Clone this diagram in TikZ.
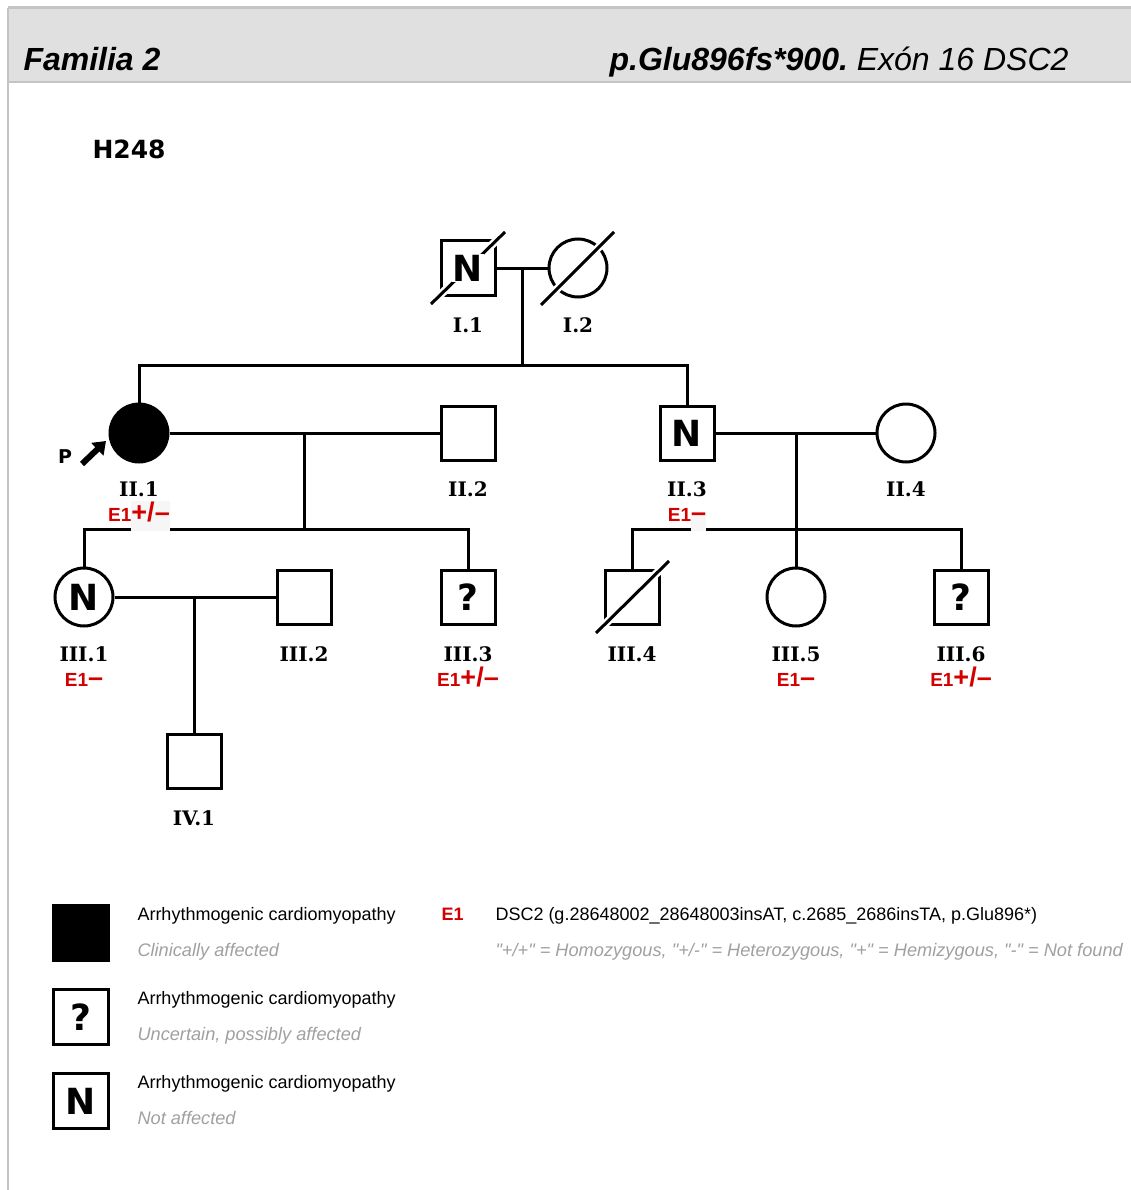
\documentclass[tikz,border=0pt]{standalone}
\usepackage{fontspec}
\setmainfont{Liberation Sans}
\newfontfamily\qfont{Liberation Sans}[Ligatures=TeXOff]
\newfontfamily\lblfont{DejaVu Serif}
\newfontfamily\vfont{DejaVu Sans}
\usetikzlibrary{arrows.meta}
\definecolor{gred}{RGB}{212,0,0}
\definecolor{ggray}{RGB}{160,160,160}
\definecolor{hdrgray}{RGB}{224,224,224}
\definecolor{bordgray}{RGB}{196,196,196}
\definecolor{gapgray}{RGB}{246,246,246}
\newcommand\gapbox[1]{{\setlength\fboxsep{0pt}\colorbox{gapgray}{\rule[-10pt]{0pt}{10pt}#1}}}
\begin{document}
\begin{tikzpicture}[x=1pt,y=-1pt,line width=3pt,
  sq/.style={draw,rectangle,minimum size=54pt,inner sep=0pt,fill=white,line width=3pt},
  ci/.style={draw,circle,minimum size=58pt,inner sep=0pt,fill=white,line width=3pt},
  sym/.style={font=\vfont\bfseries\fontsize{36}{36}\selectfont},
  idl/.style={anchor=base,inner sep=0pt,font=\lblfont\bfseries\fontsize{20}{20}\selectfont},
  gen/.style={anchor=base,inner sep=0pt,text=gred,font=\bfseries\fontsize{19}{19}\selectfont},
  leg/.style={anchor=base west,inner sep=0pt,font=\fontsize{18}{18}\selectfont},
  legsub/.style={anchor=base west,inner sep=0pt,text=ggray,font=\itshape\fontsize{18.2}{18.2}\selectfont},
  halo/.style={white,line width=8pt},
  strike/.style={line width=3pt}]
\useasboundingbox (0,0) rectangle (1131,1190);
% frame
\fill[hdrgray] (8,8) rectangle (1131,82);
\draw[bordgray,line width=1.5pt] (8,82) -- (1131,82);
\draw[bordgray,line width=3pt] (8,8) -- (1131,8);
\draw[bordgray,line width=2pt] (8,8) -- (8,1190);
\node[anchor=base west,inner sep=0pt,font=\bfseries\itshape\fontsize{32}{32}\selectfont] (fam) at (22,71) {Familia 2};
\node[anchor=base east,inner sep=0pt,font=\itshape\fontsize{32}{32}\selectfont] (mut) at (1070,71) {\bfseries p.Glu896fs*900.\mdseries\ Exón 16 DSC2};
\node[anchor=base west,inner sep=0pt,font=\vfont\bfseries\fontsize{25}{25}\selectfont] (fid) at (91,159) {H248};

% generation I
\node[sq] (I1) at (468,268) {};
\node[ci] (I2) at (578,268) {};
% generation II
\node[ci,fill=black] (II1) at (139,433) {};
\node[sq] (II2) at (468,433) {};
\node[sq,sym] (II3) at (687,433) {N};
\node[ci] (II4) at (906,433) {};
% generation III
\node[ci,sym] (III1) at (84,597) {N};
\node[sq] (III2) at (304,597) {};
\node[sq,sym] (III3) at (468,597) {?};
\node[sq] (III4) at (632,597) {};
\node[ci] (III5) at (796,597) {};
\node[sq,sym] (III6) at (961,597) {?};
% generation IV
\node[sq] (IV1) at (194,761) {};

% connectors
\coordinate (m1) at (522,268);
\coordinate (s1) at (522,365);
\draw (I1.east) -- (I2.west);
\draw (m1) -- (s1);
\draw (II1.north) |- (s1);
\draw (II3.north) |- (s1);

\coordinate (m2) at (304,433);
\coordinate (s2) at (304,529);
\draw (II1.east) -- (II2.west);
\draw (m2) -- (s2);
\draw (III1.north) |- (s2);
\draw (III3.north) |- (s2);

\coordinate (m3) at (796,433);
\coordinate (s3) at (796,529);
\draw (II3.east) -- (II4.west);
\draw (m3) -- (III5.north);
\draw (III4.north) |- (s3);
\draw (III6.north) |- (s3);

\coordinate (m4) at (194,597);
\draw (III1.east) -- (III2.west);
\draw (m4) -- (IV1.north);

% deceased strikes
\coordinate (d1a) at (431,304); \coordinate (d1b) at (505,232);
\coordinate (d2a) at (541,305); \coordinate (d2b) at (614,232);
\coordinate (d3a) at (596,633); \coordinate (d3b) at (669,561);
\draw[halo] (d1a) -- (d1b);
\draw[strike] (d1a) -- (d1b);
\draw[halo] (d2a) -- (d2b);
\draw[strike] (d2a) -- (d2b);
\draw[halo] (d3a) -- (d3b);
\draw[strike] (d3a) -- (d3b);
\node[sym,fill=white,inner sep=1pt] (I1n) at (I1.center) {N};

% proband arrow
\node[font=\vfont\bfseries\fontsize{19}{19}\selectfont,inner sep=0pt] (P) at (65,457) {P};
\coordinate (pa) at (82,464);
\coordinate (pb) at (106,441);
\draw[line width=6pt,-{Triangle[length=12pt,width=17pt]}] (pa) -- (pb);

% labels
\node[idl] (lI1) at (468,332) {I.1};
\node[idl] (lI2) at (578,332) {I.2};
\node[idl] (lII1) at (139,496) {II.1};
\node[idl] (lII2) at (468,496) {II.2};
\node[idl] (lII3) at (687,496) {II.3};
\node[idl] (lII4) at (906,496) {II.4};
\node[idl] (lIII1) at (84,661) {III.1};
\node[idl] (lIII2) at (304,661) {III.2};
\node[idl] (lIII3) at (468,661) {III.3};
\node[idl] (lIII4) at (632,661) {III.4};
\node[idl] (lIII5) at (796,661) {III.5};
\node[idl] (lIII6) at (961,661) {III.6};
\node[idl] (lIV1) at (194,825) {IV.1};

\node[gen] (gII1) at (139,521) {E1\gapbox{\fontsize{27}{27}\selectfont+/\textendash}};
\node[gen] (gII3) at (687,521) {E1\gapbox{\fontsize{27}{27}\selectfont\textendash}};
\node[gen] (gIII1) at (84,686) {E1{\fontsize{27}{27}\selectfont\textendash}};
\node[gen] (gIII3) at (468,686) {E1{\fontsize{27}{27}\selectfont+/\textendash}};
\node[gen] (gIII5) at (796,686) {E1{\fontsize{27}{27}\selectfont\textendash}};
\node[gen] (gIII6) at (961,686) {E1{\fontsize{27}{27}\selectfont+/\textendash}};

% legend
\node[sq,fill=black,minimum size=55pt] (Lg1) at (81,933) {};
\node[sq,sym,minimum size=55pt] (Lg2) at (81,1017) {?};
\node[sq,sym,minimum size=55pt] (Lg3) at (81,1101) {N};
\node[leg] (Lt1) at (136,920) {Arrhythmogenic cardiomyopathy};
\node[legsub] (Ls1) at (136,956) {Clinically affected};
\node[leg] (Lt2) at (136,1004) {Arrhythmogenic cardiomyopathy};
\node[legsub] (Ls2) at (136,1040) {Uncertain, possibly affected};
\node[leg] (Lt3) at (136,1088) {Arrhythmogenic cardiomyopathy};
\node[legsub] (Ls3) at (136,1124) {Not affected};
\node[leg,text=gred,font=\bfseries\fontsize{18}{18}\selectfont] (Le1) at (440,920) {E1};
\node[leg] (Le1t) at (494,920) {DSC2 (g.28648002\_28648003insAT, c.2685\_2686insTA, p.Glu896*)};
\node[legsub,font=\qfont\itshape\fontsize{18.2}{18.2}\selectfont] (Le1s) at (494,956) {"+/+" = Homozygous, "+/-" = Heterozygous, "+" = Hemizygous, "-" = Not found};
\end{tikzpicture}
\end{document}
